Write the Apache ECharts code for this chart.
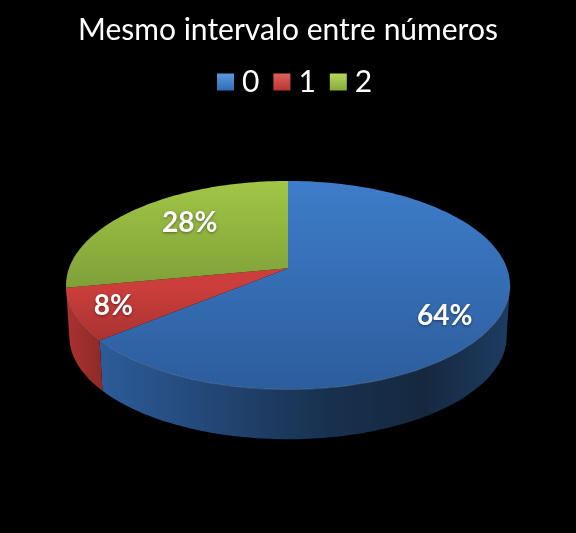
<!DOCTYPE html>
<html><head><meta charset="utf-8">
<style>html,body{margin:0;padding:0;background:#000}#c{width:576px;height:533px}</style>
<script src="https://cdn.jsdelivr.net/npm/echarts@6/dist/echarts.min.js"></script>
</head><body><div id="c"></div>
<script>
const titleText = 'Mesmo intervalo entre números';
const categories = ['0', '1', '2'];
const values = [64, 8, 28];

const FONT = 'Lato, Carlito, sans-serif';
// perspective disc geometry
const AX = 288, AY = 268.2, RX = 219, RY = 101.5, K = 0.1635;
const WALL_SCALE = 0.985, WALL_DY = 51.5;
const WALL_FROM = 99, WALL_TO = 259.2;
const labelLayout = [{r: 0.75, dy: 14}, {r: 0.83, dy: 0}, {r: 0.62, dy: -8}];
const G = (x0, y0, x1, y1, stops) => new echarts.graphic.LinearGradient(x0, y0, x1, y1,
  stops.map((c, i) => typeof c === 'string' ? {offset: i / (stops.length - 1), color: c} : c), true);
const topFill = [
  G(0, 181, 0, 389, ['#3e7dca', '#2c5d9c']),
  G(0, 287, 0, 345, ['#cc3e3b', '#a53230']),
  G(0, 181, 0, 290, ['#a1c645', '#7f9f38'])
];
const wallFill = [
  G(105, 0, 505, 0, [{offset: 0, color: '#2c5b98'}, {offset: .25, color: '#234878'}, {offset: .55, color: '#18314f'}, {offset: .8, color: '#15283f'}, {offset: 1, color: '#1d3b60'}]),
  G(66, 0, 106, 0, ['#ac322f', '#8a2927']),
  G(66, 0, 106, 0, ['#7f9f38', '#6a8530'])
];
const legendFill = [['#5a9ae0', '#2f6cb5'], ['#e0605c', '#b83532'], ['#b6d85c', '#8aa93c']];

const total = values.reduce((a, b) => a + b, 0);
let acc = 0;
const slices = values.map(v => { const s = acc / total * 360; acc += v; return {from: s, to: acc / total * 360}; });

function project(deg, r, wall) {
  const t = deg * Math.PI / 180, u = r * Math.sin(t), v = r * Math.cos(t), d = 1 + K * v;
  const x = RX * u / d, y = -RY * v / d;
  return wall ? [AX + x * WALL_SCALE, AY + y * WALL_SCALE + WALL_DY] : [AX + x, AY + y];
}
function arc(a, b, wall) {
  const n = Math.max(2, Math.ceil(Math.abs(b - a) / 1.5)), pts = [];
  for (let i = 0; i <= n; i++) pts.push(project(a + (b - a) * i / n, 1, wall));
  return pts;
}
function renderWall(params) {
  const i = params.dataIndex, s = slices[i];
  const a = Math.max(s.from, WALL_FROM), b = Math.min(s.to, WALL_TO);
  if (b <= a) return {type: 'group', children: []};
  return {type: 'polygon', shape: {points: arc(a, b, false).concat(arc(b, a, true))},
    style: {fill: wallFill[i]}};
}
function renderTop(params) {
  const i = params.seriesIndex - 1, s = slices[i], mid = (s.from + s.to) / 2, l = labelLayout[i];
  const p = project(mid, l.r, false);
  const children = [{type: 'polygon', shape: {points: [[AX, AY]].concat(arc(s.from, s.to, false))},
    style: {fill: topFill[i]}}];
  const a = Math.max(s.from, WALL_FROM), b = Math.min(s.to, WALL_TO);
  if (b > a) children.push({type: 'polyline', shape: {points: arc(a, b, false)},
    style: {fill: null, stroke: 'rgba(255,255,255,0.14)', lineWidth: 1}});
  children.push({type: 'text', style: {x: p[0], y: p[1] + l.dy,
    text: Math.round(values[i] / total * 100) + '%', fill: '#fff',
    font: 'bold 28px ' + FONT, align: 'center', verticalAlign: 'middle',
    textShadowColor: 'rgba(0,0,0,0.45)', textShadowBlur: 3, textShadowOffsetY: 1}});
  return {type: 'group', children};
}

const chart = echarts.init(document.getElementById('c'), null, {renderer: 'canvas'});
chart.setOption({
  animation: false,
  backgroundColor: '#000',
  title: {text: titleText, left: 'center', top: 10,
    textStyle: {color: '#fff', fontFamily: FONT, fontWeight: 'normal', fontSize: 30}},
  legend: {
    left: 212, top: 62, itemWidth: 17, itemHeight: 17, itemGap: 14, icon: 'rect',
    textStyle: {color: '#fff', fontFamily: FONT, fontSize: 30, padding: [0, 0, 0, 3]},
    data: categories.map((n, i) => ({name: n, itemStyle: {
      color: new echarts.graphic.LinearGradient(0, 0, 0, 1, [
        {offset: 0, color: legendFill[i][0]}, {offset: 1, color: legendFill[i][1]}])}}))
  },
  series: [
    {type: 'custom', name: 'walls', coordinateSystem: 'none', silent: true,
      renderItem: renderWall, data: values.map(v => [v])}
  ].concat(categories.map((n, i) => ({
    type: 'custom', name: n, coordinateSystem: 'none', silent: true,
    renderItem: renderTop, data: [[values[i]]]
  })))
});
</script></body></html>
